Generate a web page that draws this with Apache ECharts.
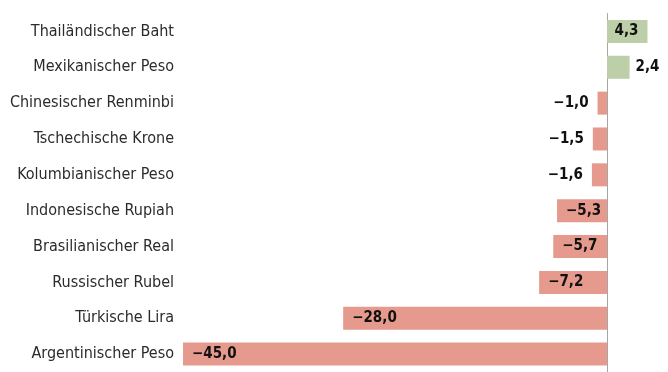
<!DOCTYPE html>
<html><head><meta charset="utf-8">
<script src="https://cdn.jsdelivr.net/npm/echarts@6/dist/echarts.min.js"></script>
<style>html,body{margin:0;padding:0;background:#fff}#c{width:668px;height:372px}</style>
</head><body><div id="c"></div>
<script>
const categories = ["Thailändischer Baht","Mexikanischer Peso","Chinesischer Renminbi","Tschechische Krone","Kolumbianischer Peso","Indonesische Rupiah","Brasilianischer Real","Russischer Rubel","Türkische Lira","Argentinischer Peso"];
const values = [4.3, 2.4, -1.0, -1.5, -1.6, -5.3, -5.7, -7.2, -28.0, -45.0];

const fmt = v => (v < 0 ? "\u2212" : "") + Math.abs(v).toFixed(1).replace(".", ",");
const font = "'DejaVu Sans Condensed','Roboto Condensed','Liberation Sans Narrow',sans-serif";

const data = values.map(v => {
  let pos;
  if (v >= 0) { pos = v >= 3 ? 'insideRight' : 'right'; }
  else { pos = v <= -3 ? 'insideLeft' : 'left'; }
  return {
    value: v,
    itemStyle: { color: v >= 0 ? '#bdcfa9' : '#e59a8d' },
    label: { position: pos, distance: pos === 'right' ? 6 : 9 }
  };
});

const chart = echarts.init(document.getElementById('c'), null, {renderer: 'canvas'});
chart.setOption({
  animation: false,
  grid: { left: 183, width: 480.5, top: 13.5, height: 362, containLabel: false },
  xAxis: { type: 'value', min: -45, max: 6, show: false },
  yAxis: [{
    type: 'category', data: categories, inverse: true,
    axisLine: { show: true, onZero: true, lineStyle: { color: '#a6a6a6', width: 1 } },
    axisTick: { show: false }, axisLabel: { show: false }
  }, {
    type: 'category', data: categories, inverse: true, position: 'left',
    axisLine: { show: false, onZero: false }, axisTick: { show: false },
    axisLabel: { show: true, margin: 9, fontFamily: font, fontSize: 16, color: '#2b2b2b' }
  }],
  series: [{
    type: 'bar', data: data, barWidth: 23, yAxisIndex: 0,
    label: {
      show: true, formatter: p => fmt(p.value),
      fontFamily: font, fontWeight: 'bold', fontSize: 15, color: '#111'
    }
  }, {
    type: 'bar', data: categories.map(() => 0), barWidth: 0, barGap: '-100%',
    yAxisIndex: 1, silent: true
  }]
});
</script></body></html>
